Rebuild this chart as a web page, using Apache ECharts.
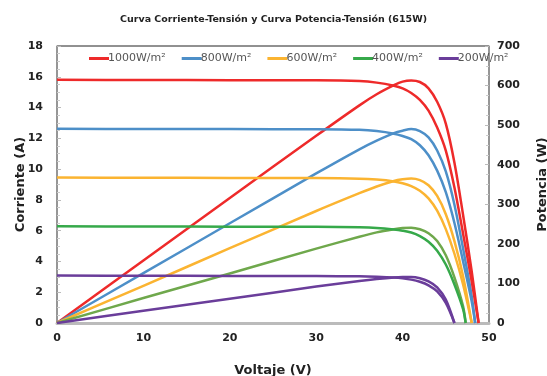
<!DOCTYPE html>
<html>
<head>
<meta charset="utf-8">
<script src="https://cdn.jsdelivr.net/npm/echarts@6/dist/echarts.min.js"></script>
<style>
  html, body { margin: 0; padding: 0; background: #fff; }
  #chart { width: 547px; height: 376px; }
</style>
</head>
<body>
<div id="chart"></div>
<script>
// voltajes de cada curva (V)
var volt1000 = [0, 10, 20, 30, 35, 37, 39, 40, 41, 42, 43, 44, 45, 46, 47, 48, 48.8];
var volt800  = [0, 10, 20, 30, 35, 37, 39, 40, 41, 42, 43, 44, 45, 46, 47, 48, 48.4];
var volt600  = [0, 10, 20, 30, 35, 37, 39, 40, 41, 42, 43, 44, 45, 46, 47, 48];
var volt400  = [0, 10, 20, 30, 35, 37, 39, 40, 41, 42, 43, 44, 45, 46, 47, 47.3];
var volt200  = [0, 10, 20, 30, 35, 37, 39, 40, 41, 42, 43, 44, 45, 46];

// corriente (A)
var corr1000 = [15.8, 15.79, 15.78, 15.77, 15.72, 15.62, 15.42, 15.25, 14.95, 14.5, 13.8, 12.7, 11.2, 8.8, 5.8, 2.7, 0];
var corr800  = [12.62, 12.61, 12.6, 12.59, 12.55, 12.47, 12.3, 12.15, 11.95, 11.55, 10.9, 9.9, 8.5, 6.5, 4.0, 1.4, 0];
var corr600  = [9.45, 9.44, 9.43, 9.42, 9.38, 9.32, 9.2, 9.08, 8.9, 8.6, 8.1, 7.3, 6.1, 4.5, 2.5, 0];
var corr400  = [6.28, 6.27, 6.26, 6.25, 6.22, 6.18, 6.08, 6.0, 5.88, 5.65, 5.28, 4.7, 3.8, 2.5, 0.9, 0];
var corr200  = [3.08, 3.07, 3.06, 3.05, 3.03, 3.0, 2.95, 2.9, 2.82, 2.68, 2.45, 2.05, 1.3, 0];

// potencia (W)
var pot1000 = [0, 158, 316, 473, 550, 578, 601, 610, 613, 609, 593, 559, 504, 405, 273, 130, 0];
var pot800  = [0, 126, 252, 378, 439, 461, 480, 486, 490, 485, 469, 436, 383, 299, 188, 67, 0];
var pot600  = [0, 94, 189, 283, 328, 345, 359, 363, 365, 361, 348, 321, 275, 207, 118, 0];
var pot400  = [0, 63, 125, 188, 218, 229, 237, 240, 241, 237, 227, 207, 171, 115, 42, 0];
var pot200  = [0, 31, 61, 92, 106, 111, 115, 116, 116, 113, 105, 90, 59, 0];

var nombres = ['1000W/m²', '800W/m²', '600W/m²', '400W/m²', '200W/m²'];
var coloresI = ['#ee2a2a', '#4d8fc8', '#fbb431', '#36a94a', '#6a3d9a'];
var coloresP = ['#ee2a2a', '#4d8fc8', '#fbb431', '#6fa84c', '#6a3d9a'];

var volts = [volt1000, volt800, volt600, volt400, volt200];
var corrs = [corr1000, corr800, corr600, corr400, corr200];
var pots = [pot1000, pot800, pot600, pot400, pot200];

function zip(xs, ys) {
  return xs.map(function (x, i) { return [x, ys[i]]; });
}

var series = [];
nombres.forEach(function (n, k) {
  series.push({
    name: 'P ' + n, type: 'line', yAxisIndex: 1, smooth: 0.3,
    showSymbol: false, data: zip(volts[k], pots[k]),
    lineStyle: { width: 2.5, color: coloresP[k], join: 'round' }, itemStyle: { color: coloresP[k] }
  });
});
nombres.forEach(function (n, k) {
  series.push({
    name: n, type: 'line', yAxisIndex: 0, smooth: 0.3,
    showSymbol: false, data: zip(volts[k], corrs[k]),
    lineStyle: { width: 2.5, color: coloresI[k], join: 'round' }, itemStyle: { color: coloresI[k] }
  });
});

var chart = echarts.init(document.getElementById('chart'));
chart.setOption({
  animation: false,
  textStyle: { fontFamily: 'DejaVu Sans' },
  title: {
    text: 'Curva Corriente-Tensión y Curva Potencia-Tensión (615W)',
    left: 'center', top: 10,
    textStyle: { fontSize: 9.5, fontWeight: 'bold', color: '#222' }
  },
  legend: {
    data: nombres, top: 48, left: 84, itemWidth: 20, itemHeight: 3, itemGap: 16,
    icon: 'rect',
    textStyle: { fontSize: 11, color: '#555', padding: [0, 0, 0, -6] }
  },
  grid: {
    left: 57, right: 58, top: 46, bottom: 53, outerBoundsMode: 'none',
    show: true, borderColor: '#222', borderWidth: 1
  },
  xAxis: {
    type: 'value', min: 0, max: 50, interval: 10,
    name: 'Voltaje (V)', nameLocation: 'middle', nameGap: 41, nameMoveOverlap: false,
    nameTextStyle: { fontSize: 13, fontWeight: 'bold', color: '#222' },
    axisLine: { lineStyle: { color: '#bbb', width: 3 } },
    axisTick: { show: false },
    axisLabel: { fontSize: 11, fontWeight: 'bold', color: '#222', margin: 10 },
    splitLine: { show: false }
  },
  yAxis: [{
    type: 'value', min: 0, max: 18, interval: 2,
    name: 'Corriente (A)', nameLocation: 'middle', nameGap: 30, nameMoveOverlap: false,
    nameTextStyle: { fontSize: 13, fontWeight: 'bold', color: '#222' },
    axisLine: { show: true, lineStyle: { color: '#999', width: 1.5 } },
    axisTick: { show: true, inside: true, length: 4, lineStyle: { color: '#bbb' } },
    minorTick: { show: true, splitNumber: 4, length: 3, lineStyle: { color: '#ccc' } },
    axisLabel: { fontSize: 11, fontWeight: 'bold', color: '#222', margin: 14 },
    splitLine: { show: false }
  }, {
    type: 'value', min: 0, max: 700, interval: 100,
    name: 'Potencia (W)', nameLocation: 'middle', nameGap: 47, nameMoveOverlap: false,
    nameTextStyle: { fontSize: 13, fontWeight: 'bold', color: '#222' },
    axisLine: { show: true, lineStyle: { color: '#999', width: 1.5 } },
    axisTick: { show: true, inside: true, length: 4, lineStyle: { color: '#bbb' } },
    minorTick: { show: true, splitNumber: 4, length: 3, lineStyle: { color: '#ccc' } },
    axisLabel: { fontSize: 11, fontWeight: 'bold', color: '#222', margin: 8 },
    splitLine: { show: false }
  }],
  series: series
});
</script>
</body>
</html>
